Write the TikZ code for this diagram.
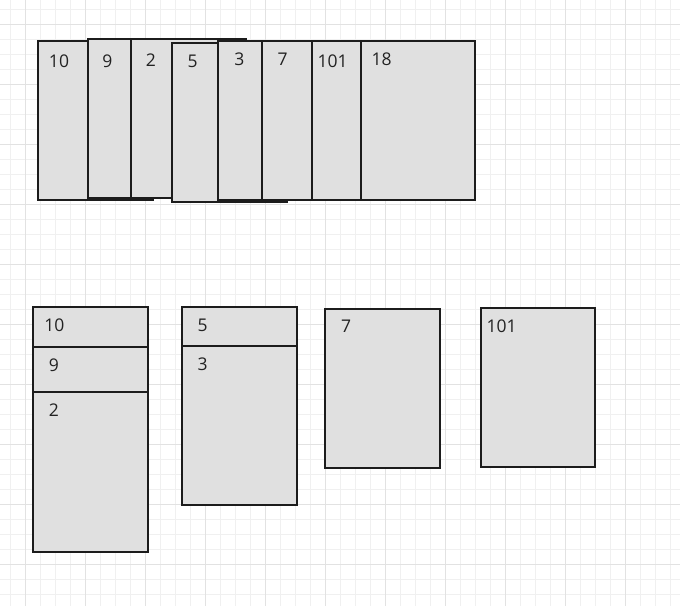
\documentclass[tikz,border=0pt]{standalone}
\usepackage{fontspec}
\setmainfont{Open Sans}
\definecolor{gridminor}{HTML}{F0F0F0}
\definecolor{gridmajor}{HTML}{E2E2E2}
\definecolor{boxfill}{HTML}{E0E0E0}
\definecolor{boxline}{HTML}{1C1C1C}
\definecolor{txt}{HTML}{222222}
\begin{document}
\begin{tikzpicture}[x=1pt,y=-1pt,
  card/.style={draw=boxline,fill=boxfill,line width=1.8pt,rectangle,anchor=north west,inner sep=0pt,outer sep=0pt,minimum width=115pt},
  lbl/.style={text=txt,font=\fontsize{17.5}{20}\selectfont,inner sep=0pt}]
\useasboundingbox (0,0) rectangle (680,606);
\fill[white] (0,0) rectangle (680,606);
% grid
\foreach \k in {0,...,44} {
  \draw[gridminor,line width=1pt] (10.3+15*\k,0) -- (10.3+15*\k,606);
  \draw[gridminor,line width=1pt] (0,9.3+15*\k) -- (680,9.3+15*\k);
}
\foreach \k in {0,...,11} {
  \draw[gridmajor,line width=1pt] (25.3+60*\k,0) -- (25.3+60*\k,606);
  \draw[gridmajor,line width=1pt] (0,24.3+60*\k) -- (680,24.3+60*\k);
}
% top row
\node[card,minimum height=159.3pt] (t10) at (38,40.7) {};
\node[lbl] (l10) at (59,61) {10};
\node[card,minimum height=159.3pt] (t9) at (88,39) {};
\node[lbl] (l9) at (107.3,61) {9};
\node[card,minimum height=159.3pt] (t2) at (131,39) {};
\node[lbl] (l2) at (151,60) {2};
\node[card,minimum height=159pt] (t5) at (172,42.7) {};
\node[lbl] (l5) at (192.7,61.7) {5};
\node[card,minimum height=159pt] (t3) at (218,41) {};
\node[lbl] (l3) at (239.3,59.3) {3};
\node[card,minimum height=159pt] (t7) at (262,41) {};
\node[lbl] (l7) at (282.7,59) {7};
\node[card,minimum height=159pt] (t101) at (312,41) {};
\node[lbl] (l101) at (332.7,61.7) {101};
\node[card,minimum height=159pt,minimum width=114pt] (t18) at (361,41) {};
\node[lbl] (l18) at (381.7,59.5) {18};
% bottom row
\node[card,minimum height=40pt] (b10) at (33,307) {};
\node[lbl] (m10) at (54.3,325) {10};
\node[card,minimum height=45pt] (b9) at (33,347) {};
\node[lbl] (m9) at (54,365) {9};
\node[card,minimum height=160pt] (b2) at (33,392) {};
\node[lbl] (m2) at (54,410) {2};
\node[card,minimum height=39pt] (b5) at (182,307) {};
\node[lbl] (m5) at (202.7,325.7) {5};
\node[card,minimum height=159pt] (b3) at (182,346) {};
\node[lbl] (m3) at (202.7,364.3) {3};
\node[card,minimum height=159pt] (b7) at (325,309) {};
\node[lbl] (m7) at (346,326.7) {7};
\node[card,minimum height=159pt,minimum width=114.3pt] (b101) at (481,308) {};
\node[lbl] (m101) at (501.7,326.7) {101};
\end{tikzpicture}
\end{document}
